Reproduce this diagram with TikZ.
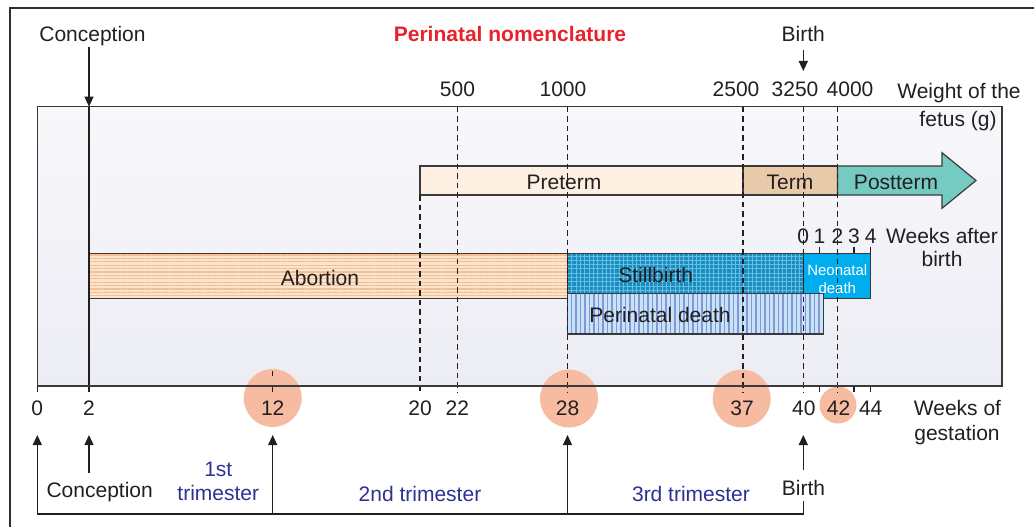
\documentclass[tikz,border=0pt]{standalone}
\usepackage{fontspec}
\setmainfont{Liberation Sans}
\usetikzlibrary{arrows.meta,patterns.meta,calc}
\definecolor{ink}{HTML}{231F20}
\definecolor{edge}{HTML}{3A3A3A}
\definecolor{frame}{HTML}{2E2E2E}
\definecolor{boxtop}{HTML}{F8F8FB}
\definecolor{boxbot}{HTML}{ECEDF4}
\definecolor{salmon}{HTML}{F7BBA2}
\definecolor{preterm}{HTML}{FDF0E2}
\definecolor{term}{HTML}{E8C9A9}
\definecolor{postterm}{HTML}{75CAC2}
\definecolor{abobase}{HTML}{FBE3CC}
\definecolor{abostripe}{HTML}{F1BD93}
\definecolor{stillbase}{HTML}{1C8DBE}
\definecolor{stillgrid}{HTML}{62BFE6}
\definecolor{neo}{HTML}{00AEEF}
\definecolor{peribase}{HTML}{C2E5F8}
\definecolor{periline}{HTML}{8D91D6}
\definecolor{titlered}{HTML}{E8212A}
\definecolor{triblue}{HTML}{2E3192}
\begin{document}
\begin{tikzpicture}[x=1pt,y=-1pt,
  every node/.style={inner sep=0pt, outer sep=0pt},
  txt/.style={font=\fontsize{21}{25}\selectfont, text=ink, anchor=base},
  tri/.style={font=\fontsize{21}{25}\selectfont, text=triblue, anchor=base},
  small/.style={font=\fontsize{15}{18}\selectfont, text=white, anchor=base},
  bar/.style={draw=edge, line width=1.2pt},
  dline/.style={draw=ink, line width=1.3pt, dash pattern=on 5.5pt off 4pt},
  tick/.style={draw=ink, line width=1.2pt},
  arr/.style={draw=ink, line width=1.3pt, -{Triangle[length=10pt,width=9pt]}},
  circ/.style={circle, fill=salmon, draw=none}]

\useasboundingbox (0,0) rectangle (1034,527);

% outer frame (continues beyond the picture)
\draw[line width=2.2pt, frame] (9.7,540) -- (9.7,8) -- (1045,8);

% inner box fill
\shade[top color=boxtop, bottom color=boxbot] (37.3,106.7) rectangle (1002,386);

% circles
\node[circ, minimum size=58pt] (c12) at (272.7,398) {};
\node[circ, minimum size=58pt] (c28) at (569,398.5) {};
\node[circ, minimum size=58pt] (c37) at (741.7,398.5) {};
\node[circ, minimum size=37pt] (c42) at (838,405) {};

% Preterm / Term / Postterm
\draw[bar, fill=preterm] (420,166) rectangle (743,195);
\draw[bar, fill=term] (743,166) rectangle (837.5,195);
\draw[bar, fill=postterm, line join=miter] (837.5,166) -- (942,166) -- (942,152.7) -- (976,180.5) -- (942,208.3) -- (942,195) -- (837.5,195) -- cycle;

% Abortion
\fill[abobase] (89,253.3) rectangle (567.5,298.3);
\fill[pattern={Lines[distance=3.4pt,angle=0,line width=1.1pt]}, pattern color=abostripe] (89,253.3) rectangle (567.5,298.3);
\draw[bar] (89,253.3) rectangle (567.5,298.3);

% Stillbirth
\fill[stillbase] (567.5,253.3) rectangle (803.3,293.3);
\fill[pattern={Lines[distance=4.3pt,angle=0,line width=1pt]}, pattern color=stillgrid] (567.5,253.3) rectangle (803.3,293.3);
\fill[pattern={Lines[distance=4.3pt,angle=90,line width=1pt]}, pattern color=stillgrid] (567.5,253.3) rectangle (803.3,293.3);
\draw[bar] (567.5,253.3) rectangle (803.3,293.3);

% Neonatal death
\draw[bar, fill=neo] (803.3,253.3) rectangle (870.7,298.3);

% Perinatal death
\fill[peribase] (567.5,293.3) rectangle (823.3,334);
\fill[pattern={Lines[distance=4.5pt,angle=90,line width=1.2pt]}, pattern color=periline] (567.5,293.3) rectangle (823.3,334);
\draw[bar] (567.5,293.3) rectangle (823.3,334);

% dashed gestation lines
\draw[dline] (420,195) -- (420,392);
\foreach \x in {457.3,567.5,743,803.3,837.5} \draw[dline] (\x,106.7) -- (\x,392);
\draw[tick, dash pattern=on 5pt off 11pt] (272.7,371) -- (272.7,392);
\foreach \x in {37.3,819.5,854,870.7} \draw[tick] (\x,386) -- (\x,392);
\draw[tick] (89,106.7) -- (89,392);
% after-birth ticks
\foreach \x in {819.5,854,870.7} \draw[tick] (\x,247) -- (\x,253.3);

% inner box outline
\draw[draw=edge, line width=1.3pt] (37.3,106.7) rectangle (1002,386);

% top labels
\node[txt] (conT) at (92.5,42) {Conception};
\node[txt, font=\fontsize{21}{25}\selectfont\bfseries, text=titlered] (title) at (510,42) {Perinatal nomenclature};
\node[txt] (birthT) at (803.3,42) {Birth};
\coordinate (conTa) at (89,47.3);
\coordinate (conTb) at (89,106.7);
\coordinate (birthTa) at (803.3,50);
\coordinate (birthTb) at (803.3,71);
\draw[arr] (conTa) -- (conTb);
\draw[arr] (birthTa) -- (birthTb);

% weight labels
\node[txt] (g500) at (457.5,96) {500};
\node[txt] (g1000) at (563,96) {1000};
\node[txt] (g2500) at (736,96) {2500};
\node[txt] (g3250) at (795,96) {3250};
\node[txt] (g4000) at (850,96) {4000};
\node[txt] (wt1) at (959,99) {Weight of the};
\node[txt] (wt2) at (958,126) {fetus (g)};

% bar labels
\node[txt] (lpre) at (564,189) {Preterm};
\node[txt] (lterm) at (790,189) {Term};
\node[txt] (lpost) at (896,189) {Postterm};
\node[txt] (labo) at (320,285) {Abortion};
\node[txt] (lstill) at (655.7,282) {Stillbirth};
\node[txt] (lperi) at (660,322) {Perinatal death};
\node[small] (lneo1) at (837.3,275.7) {Neonatal};
\node[small] (lneo2) at (837.3,293) {death};

% weeks after birth
\node[txt] (ab0) at (803.3,243) {0};
\node[txt] (ab1) at (819.5,243) {1};
\node[txt] (ab2) at (837.5,243) {2};
\node[txt] (ab3) at (854,243) {3};
\node[txt] (ab4) at (870.7,243) {4};
\node[txt] (wab1) at (942,243) {Weeks after};
\node[txt] (wab2) at (942,266) {birth};

% weeks of gestation
\node[txt] (w0) at (37.3,415.7) {0};
\node[txt] (w2) at (89,415.7) {2};
\node[txt] (w12) at (272.7,415.7) {12};
\node[txt] (w20) at (420,415.7) {20};
\node[txt] (w22) at (457.3,415.7) {22};
\node[txt] (w28) at (567.5,415.7) {28};
\node[txt] (w37) at (742,415.7) {37};
\node[txt] (w40) at (803.8,415.7) {40};
\node[txt] (w42) at (838.5,415.7) {42};
\node[txt] (w44) at (870.7,415.7) {44};
\node[txt] (wg1) at (957.5,415.7) {Weeks of};
\node[txt] (wg2) at (957,440) {gestation};

% bottom trimester bracket
\coordinate (b0) at (37.3,514);
\coordinate (b0t) at (37.3,435);
\coordinate (b12) at (272.7,514);
\coordinate (b12t) at (272.7,435);
\coordinate (b28) at (567.5,514);
\coordinate (b28t) at (567.5,435);
\coordinate (b40) at (803.3,514);
\coordinate (b40u) at (803.3,501);
\coordinate (c2a) at (89,472.7);
\coordinate (c2t) at (89,435);
\coordinate (bia) at (803.3,470);
\coordinate (bit) at (803.3,435);
\draw[draw=ink, line width=1.3pt] (b40u) -- (b40) -- (b0);
\draw[arr] (b0) -- (b0t);
\draw[arr] (b12) -- (b12t);
\draw[arr] (b28) -- (b28t);
\draw[arr] (c2a) -- (c2t);
\draw[arr] (bia) -- (bit);

\node[txt] (conB) at (99.7,497.7) {Conception};
\node[txt] (birthB) at (803.5,495) {Birth};
\node[tri] (t1a) at (218.3,476) {1st};
\node[tri] (t1b) at (218.3,500) {trimester};
\node[tri] (t2) at (420,501) {2nd trimester};
\node[tri] (t3) at (691,501.7) {3rd trimester};
\end{tikzpicture}
\end{document}
